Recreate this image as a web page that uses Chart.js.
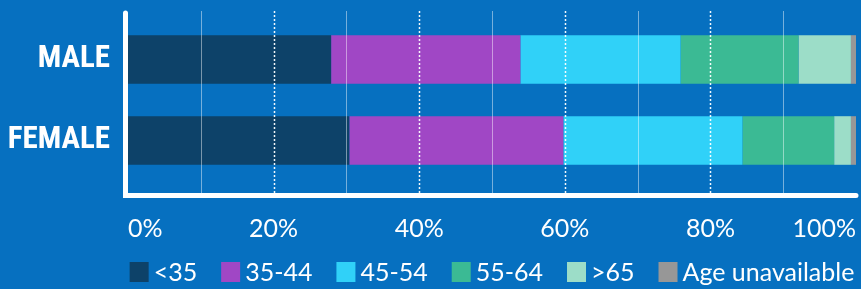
<!DOCTYPE html>
<html><head><meta charset="utf-8">
<script src="https://cdn.jsdelivr.net/npm/chart.js@4"></script>
<style>html,body{margin:0;padding:0;background:#0670C0;overflow:hidden}</style>
</head><body>
<canvas id="c" width="861" height="289" style="display:block;width:861px;height:289px"></canvas>
<script>
const categories = ['MALE', 'FEMALE'];
const seriesLabels = ['<35', '35-44', '45-54', '55-64', '>65', 'Age unavailable'];
const under35 = [27.9, 30.4];
const age35to44 = [26.0, 29.4];
const age45to54 = [22.0, 24.6];
const age55to64 = [16.2, 12.6];
const over65 = [7.2, 2.3];
const ageUnavailable = [0.7, 0.7];
const tickValues = [0, 20, 40, 60, 80, 100];
const gridValues = [10, 20, 30, 40, 50, 60, 70, 80, 90];

const seriesValues = [under35, age35to44, age45to54, age55to64, over65, ageUnavailable];
const seriesColors = ['#0D4269', '#A047C5', '#30D1F8', '#3BBA94', '#9CDDC8', '#979797'];
const BG = '#0670C0';
const TICK_FONT = "Lato, 'Open Sans', sans-serif";

const decor = {
  id: 'decor',
  beforeDraw(chart) {
    const ctx = chart.ctx;
    ctx.save();
    ctx.fillStyle = BG;
    ctx.fillRect(0, 0, chart.width, chart.height);
    ctx.restore();
  },
  afterDatasetsDraw(chart) {
    const ctx = chart.ctx, ca = chart.chartArea, xs = chart.scales.x;
    const top = ca.top - 8, bottom = ca.bottom + 13;
    ctx.save();
    gridValues.forEach(v => {
      const x = Math.round(xs.getPixelForValue(v)) + 0.5;
      ctx.beginPath();
      if (v % 20 === 0) {
        ctx.setLineDash([2, 2]);
        ctx.strokeStyle = 'rgba(255,255,255,0.95)';
        ctx.lineWidth = 1.5;
      } else {
        ctx.setLineDash([]);
        ctx.strokeStyle = 'rgba(255,255,255,0.45)';
        ctx.lineWidth = 1;
      }
      ctx.moveTo(x, top);
      ctx.lineTo(x, bottom);
      ctx.stroke();
    });
    ctx.setLineDash([]);
    ctx.strokeStyle = '#FFFFFF';
    ctx.lineWidth = 5;
    ctx.lineCap = 'round';
    const ax = ca.left - 2.5, ay = ca.bottom + 14.5;
    ctx.beginPath();
    ctx.moveTo(ax, top + 2);
    ctx.lineTo(ax, ay);
    ctx.lineTo(ca.right, ay);
    ctx.stroke();
    ctx.restore();
  },
  afterDraw(chart) {
    const ctx = chart.ctx, ca = chart.chartArea;
    ctx.save();
    ctx.font = '25px ' + TICK_FONT;
    ctx.textBaseline = 'middle';
    ctx.textAlign = 'left';
    const box = 19, gap = 5, spacing = 24;
    const items = chart.data.datasets.map(d => ({ label: d.label, color: d.backgroundColor, w: box + gap + ctx.measureText(d.label).width }));
    const total = items.reduce((s, it) => s + it.w, 0) + spacing * (items.length - 1);
    let x = (ca.left + ca.right) / 2 - total / 2;
    const yc = chart.height - 17;
    items.forEach(it => {
      ctx.fillStyle = it.color;
      ctx.fillRect(x, yc - 10, box, 20);
      ctx.fillStyle = '#FFFFFF';
      ctx.fillText(it.label, x + box + gap, yc + 1);
      x += it.w + spacing;
    });
    ctx.restore();
  }
};

new Chart(document.getElementById('c'), {
  type: 'bar',
  data: {
    labels: categories,
    datasets: seriesLabels.map((lab, i) => ({
      label: lab,
      data: seriesValues[i],
      backgroundColor: seriesColors[i],
      borderWidth: 0,
      barPercentage: 1.0,
      categoryPercentage: 0.6
    }))
  },
  options: {
    indexAxis: 'y',
    responsive: false,
    animation: false,
    devicePixelRatio: 1,
    layout: { padding: { left: 0, right: 5, top: 19, bottom: 45 } },
    plugins: { legend: { display: false }, tooltip: { enabled: false } },
    scales: {
      x: {
        type: 'linear', stacked: true, min: 0, max: 100,
        grid: { display: false, drawTicks: false },
        border: { display: false },
        afterBuildTicks(scale) { scale.ticks = tickValues.map(v => ({ value: v })); },
        afterFit(scale) { scale.height = 63; scale.paddingLeft = 0; scale.paddingRight = 0; },
        ticks: {
          color: '#FFFFFF', padding: 33, align: 'inner', maxRotation: 0, autoSkip: false,
          font: { family: TICK_FONT, size: 25 },
          callback: v => v + '%'
        }
      },
      y: {
        type: 'category', stacked: true, offset: true,
        grid: { display: false, drawTicks: false },
        border: { display: false },
        afterFit(scale) { scale.width = 128; scale.paddingTop = 0; scale.paddingBottom = 0; },
        ticks: {
          color: '#FFFFFF', padding: 18,
          font: { family: "'Roboto Condensed', 'DejaVu Sans Condensed', sans-serif", size: 31, weight: 'bold' }
        }
      }
    }
  },
  plugins: [decor]
});
</script>
</body></html>
